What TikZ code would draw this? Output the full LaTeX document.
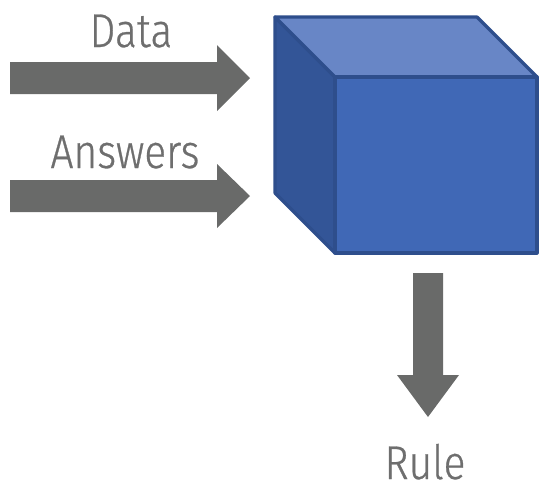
\documentclass[tikz,border=0pt]{standalone}
\usepackage{fontspec}
\setmainfont{Fira Sans Light}[FakeStretch=0.86, FakeBold=0.6]
\definecolor{arrowgray}{HTML}{696A69}
\definecolor{labelgray}{HTML}{6E6E6E}
\definecolor{cubefront}{HTML}{4068B6}
\definecolor{cubetop}{HTML}{6886C6}
\definecolor{cubeside}{HTML}{335597}
\definecolor{cubeedge}{HTML}{2E4E8C}
\tikzset{
  blockarrow/.style={fill=arrowgray, draw=none},
  face/.style={draw=cubeedge, line width=2.4pt, line join=round},
  lbl/.style={text=labelgray, font=\fontsize{35.5}{40}\selectfont, inner sep=0pt, anchor=base}
}
\begin{document}
\begin{tikzpicture}[x=0.75pt, y=-0.75pt]
\useasboundingbox (0,0) rectangle (539,486);

% cube corners
\coordinate (bTL) at (275,17);
\coordinate (bTR) at (477,17);
\coordinate (bBL) at (275,193);
\coordinate (fTL) at (335,77);
\coordinate (fTR) at (537,77);
\coordinate (fBL) at (335,253);
\coordinate (fBR) at (537,253);

% faces
\draw[face, fill=cubeside] (bTL) -- (fTL) -- (fBL) -- (bBL) -- cycle;
\draw[face, fill=cubetop] (bTL) -- (bTR) -- (fTR) -- (fTL) -- cycle;
\draw[face, fill=cubefront] (fTL) rectangle (fBR);

% input arrows
\fill[blockarrow] (10,62) -- (217,62) -- (217,45) -- (250,78) -- (217,111) -- (217,94) -- (10,94) -- cycle;
\fill[blockarrow] (10,180) -- (217,180) -- (217,164) -- (250,196) -- (217,228) -- (217,212) -- (10,212) -- cycle;

% output arrow
\fill[blockarrow] (413,273) -- (443,273) -- (443,375) -- (459,375) -- (428,417) -- (397,375) -- (413,375) -- cycle;

% labels
\node[lbl] (data) at (131,47) {Data};
\node[lbl] (answers) at (125,168) {Answers};
\node[lbl] (rule) at (425,479) {Rule};
\end{tikzpicture}
\end{document}
